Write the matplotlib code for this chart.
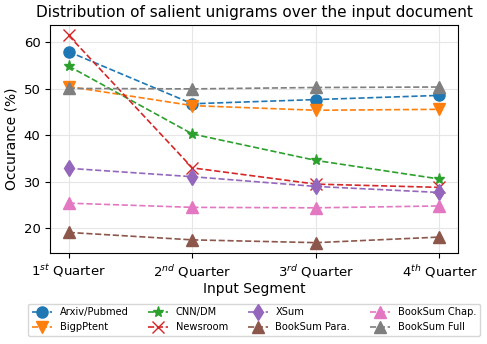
import numpy as np
import matplotlib
matplotlib.use('Agg')
import matplotlib.pyplot as plt

segments = ['$1^{st}$ Quarter', '$2^{nd}$ Quarter', '$3^{rd}$ Quarter', '$4^{th}$ Quarter']

arxiv_pubmed = [58.0, 46.8, 47.7, 48.6]
bigpatent = [50.5, 46.4, 45.4, 45.6]
cnn_dm = [54.9, 40.3, 34.6, 30.6]
newsroom = [61.5, 33.0, 29.5, 28.8]
xsum = [32.9, 31.1, 29.0, 27.7]
booksum_para = [19.1, 17.5, 16.9, 18.1]
booksum_chap = [25.4, 24.5, 24.4, 24.8]
booksum_full = [50.1, 50.0, 50.3, 50.4]

series = [
    ('Arxiv/Pubmed', arxiv_pubmed, 'o', 'tab:blue'),
    ('BigpPtent', bigpatent, 'v', 'tab:orange'),
    ('CNN/DM', cnn_dm, '*', 'tab:green'),
    ('Newsroom', newsroom, 'x', 'tab:red'),
    ('XSum', xsum, 'd', 'tab:purple'),
    ('BookSum Para.', booksum_para, '^', 'tab:brown'),
    ('BookSum Chap.', booksum_chap, '^', 'tab:pink'),
    ('BookSum Full', booksum_full, '^', 'tab:gray'),
]

fig, ax = plt.subplots(figsize=(4.87, 3.44), dpi=100)
fig.subplots_adjust(left=0.103, right=0.9405, top=0.927, bottom=0.2645)

x = np.arange(len(segments))
for name, vals, marker, color in series:
    ax.plot(x, vals, linestyle='--', marker=marker, color=color, label=name,
            markersize=8, linewidth=1.2)

ax.set_xticks(x)
ax.set_xticklabels(segments, fontsize=9.5)
ax.tick_params(axis='y', labelsize=9.5)
ax.set_yticks([20, 30, 40, 50, 60])
ax.grid(True, color='#e6e6e6', linewidth=0.8)
ax.set_axisbelow(True)
ax.set_xlabel('Input Segment', fontsize=10, labelpad=2)
ax.set_ylabel('Occurance (%)', fontsize=10)
ax.set_title('Distribution of salient unigrams over the input document', fontsize=11)

ax.legend(loc='upper center', bbox_to_anchor=(0.5, -0.2),
          ncol=4, fontsize=7.1)

plt.savefig('out.png', dpi=100)
plt.close()
